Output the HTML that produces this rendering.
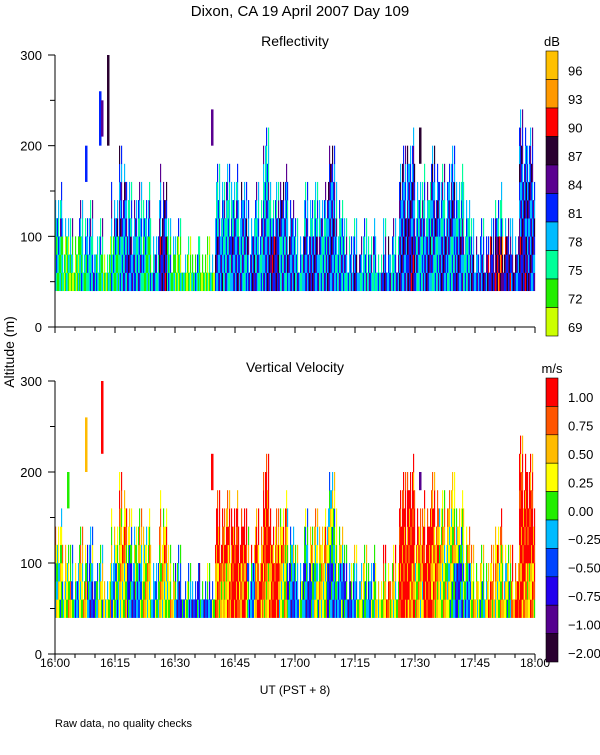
<!DOCTYPE html>
<html><head><meta charset="utf-8"><style>
body{margin:0;background:#fff}
svg text{font-family:"Liberation Sans",sans-serif;fill:#000}
</style></head><body>
<svg id="c" width="600" height="750" xmlns="http://www.w3.org/2000/svg">
<rect width="600" height="750" fill="#fff"/>
<text x="300" y="16" font-size="15" text-anchor="middle">Dixon, CA 19 April 2007  Day 109</text>
<text x="295" y="46" font-size="14" text-anchor="middle">Reflectivity</text>
<text x="295" y="372" font-size="14" text-anchor="middle">Vertical Velocity</text>
<text transform="translate(14,352) rotate(-90)" font-size="14" text-anchor="middle">Altitude (m)</text>
<text x="295" y="694" font-size="12" text-anchor="middle">UT  (PST + 8)</text>
<text x="55" y="727" font-size="11">Raw data, no quality checks</text>
<g id="g"></g>
</svg>
<script>
const binTops=[140,120,100,120,120,100,80,140,180,140,140,140,100,160,100,100,80,80,80,80,160,160,160,150,120,140,200,140,160,140,100,140,140,140,190,140,100,100,100,100,80,100,100,180,200,150,160,180,160,180,160,140,100,100,100,140,120,100,220,200];
const refLow=[75,72,72,75,78,75,72,75,78,81,78,75,78,84,75,72,72,75,72,72,81,78,81,78,81,78,81,84,78,81,78,81,81,78,81,78,78,81,78,78,78,81,78,81,84,78,81,78,81,78,81,78,81,81,84,87,84,81,84,81];
const refHigh=[78,78,81,78,78,78,78,81,81,78,78,78,78,81,78,78,78,78,78,78,78,78,78,81,78,78,78,78,81,78,78,78,78,78,81,78,78,78,78,78,78,78,78,81,81,78,78,81,78,81,78,78,78,78,78,78,81,78,81,81];
const velLow=[0,0.25,-0.25,0.25,-0.5,0,0.25,-0.25,0.25,-0.5,-0.25,0.25,-0.25,0.25,0.25,-0.5,-0.25,-0.5,-0.5,-0.25,0.5,0.5,1,0.75,-0.25,0.75,0.5,1,0.25,-0.5,-0.25,-0.5,0,0.25,-0.5,-0.25,-0.5,-0.25,0,-0.25,0.25,0.5,0.25,1,0.75,0.25,1,0.5,0.25,0,-0.5,-0.25,0.25,0,0.5,0.25,0,0.75,0.75,0.5];
const velHigh=[0.25,0,0,0.25,-0.25,0,0.25,0.25,0.5,0,0.25,0.25,0.25,0.5,0,-0.25,0,-0.25,0,0.25,1,0.75,1,1,0.5,0.75,1,0.75,0.5,0,0.25,0,0.25,0.5,0,0.25,0,0.25,0.25,0,0.25,0.75,0.5,1,1,0.75,1,0.75,0.25,0.25,0,0.25,0.5,0.25,0.75,0.5,0.25,1,1,1];
const refSpikes=[[7.5,160,200,81],[11,200,260,81],[11.5,210,250,84],[13,200,300,87],[39,200,240,84],[91,180,220,87]];
const velSpikes=[[3,160,200,0],[7.5,200,260,0.5],[11.5,220,300,1],[39,180,220,1],[91,180,200,-1]];
const dbLabels=[96,93,90,87,84,81,78,75,72,69];
const dbColors=["#ffc000","#ff9900","#ff0000","#2a0030","#5a0090","#0022ff","#00bbff","#00ff99","#22ee00","#ccff00"];
const velLabels=["1.00","0.75","0.50","0.25","0.00","\u22120.25","\u22120.50","\u22120.75","\u22121.00","\u22122.00"];
const velVals=[1,0.75,0.5,0.25,0,-0.25,-0.5,-0.75,-1,-2];
const velColors=["#ff0000","#ff5500","#ffbb00","#ffff00","#22ee00","#00bbff","#0044ff","#2200ee","#55008f","#2a0030"];
const timeLabels=["16:00","16:15","16:30","16:45","17:00","17:15","17:30","17:45","18:00"];
const yLabels=[0,100,200,300];
const NS="http://www.w3.org/2000/svg",G=document.getElementById('g');
const X0=55,X1=535,PW=4;
const xm=m=>X0+m*PW;
function mk(t,a){const e=document.createElementNS(NS,t);for(const k in a)e.setAttribute(k,a[k]);G.appendChild(e);return e;}
function dbColor(v){let i=Math.round((96-v)/3);i=Math.max(0,Math.min(9,i));return dbColors[i];}
function velColor(v){let b=0,d=1e9;velVals.forEach((w,i)=>{if(Math.abs(w-v)<d){d=Math.abs(w-v);b=i;}});return velColors[b];}
const tex=[0,-40,20,-20,0,-60,-20,20,-40,0,-20];
const dbJit=[0,-3,3,0,3,-3,0,6,-3];
const vJit=[0,0.25,-0.25,0,-0.5,0.25,0.5,-0.25,0];
function panel(top,bot,isRef,name){
  const ya=a=>bot-(a/300)*(bot-top);
  binTops.forEach((h,b)=>{
    for(let s=0;s<8;s++){
      const ht=Math.max(60,h+tex[(b*5+s*3)%11]);
      for(let a=40;a<ht;a+=20){
        const j=(b*2+s*4+a/20)%9;
        let c;
        if(isRef){const v=(a<90?refLow[b]:refHigh[b])+dbJit[j];c=dbColor(v);}
        else{const v=(a<90?velLow[b]:velHigh[b])+vJit[j];c=velColor(v);}
        const r=mk('rect',{x:xm(b*2+s*0.25),y:ya(a+20),width:1.15,height:ya(a)-ya(a+20)+0.3,fill:c});
        
        
      }
    }
  });
  (isRef?refSpikes:velSpikes).forEach(sp=>{
    const r=mk('rect',{x:xm(sp[0]),y:ya(sp[2]),width:2.5,height:ya(sp[1])-ya(sp[2]),fill:isRef?dbColor(sp[3]):velColor(sp[3])});
    
    
  });
  const ax=mk('path',{d:`M${X0},${top} V${bot} H${X1}`,stroke:'#000',fill:'none','stroke-width':1});
  
  
  for(let a=0;a<=300;a+=50){
    const t=mk('line',{x1:X0-(a%100?5:7),x2:X0,y1:ya(a),y2:ya(a),stroke:'#000'});
    
    
  }
  yLabels.forEach(v=>{
    const t=mk('text',{x:42,y:ya(v)+5,'font-size':13,'text-anchor':'end'});t.textContent=v;
    
    
  });
  for(let m=0;m<=120;m+=5){
    const t=mk('line',{x1:xm(m),x2:xm(m),y1:bot,y2:bot+(m%15?4:6),stroke:'#000'});
    
    
  }
}
panel(55,327,true,'reflectivity');
panel(381,654,false,'velocity');
timeLabels.forEach((l,i)=>{
  const t=mk('text',{x:xm(i*15),y:667,'font-size':12,'text-anchor':'middle'});t.textContent=l;
  
  
});
function cbar(top,bot,colors,labels,unit,name){
  const h=(bot-top)/colors.length;
  colors.forEach((c,i)=>{
    const r=mk('rect',{x:546,y:top+i*h,width:12,height:h,fill:c,stroke:'#000','stroke-width':0.6});
    
    
    const t=mk('text',{x:568,y:top+i*h+h/2+10,'font-size':13});t.textContent=labels[i];
    
    
  });
  const u=mk('text',{x:552,y:top-5,'font-size':13,'text-anchor':'middle'});u.textContent=unit;
  
  
}
cbar(51,336,dbColors,dbLabels,'dB','db-colorbar');
cbar(378,662,velColors,velLabels,'m/s','velocity-colorbar');
</script>
</body></html>
